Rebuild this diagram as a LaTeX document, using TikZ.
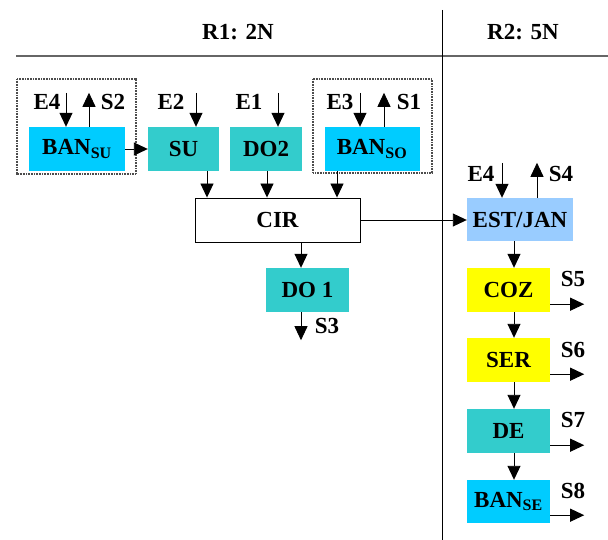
\documentclass[tikz,border=0pt]{standalone}
\usepackage{fontspec}
\setmainfont{Liberation Serif}
\usetikzlibrary{arrows.meta}
\definecolor{bancyan}{HTML}{00CCFF}
\definecolor{teal1}{HTML}{33CCCC}
\definecolor{lblue}{HTML}{99CCFF}
\definecolor{yel}{HTML}{FFFF00}
\begin{document}
\begin{tikzpicture}[x={(1pt,0)},y={(0,-1pt)},
  font=\fontsize{23}{26}\selectfont\bfseries,
  box/.style={inner sep=0pt, minimum height=44pt, text=black},
  arr/.style={line width=0.9pt, -{Triangle[length=14pt,width=13pt]}},
  lbl/.style={inner sep=0pt},
  frame/.style={draw=black!70, line width=1.6pt, dash pattern=on 0.8pt off 0.8pt}]
\useasboundingbox (0,0) rectangle (608,540);

% header
\node[lbl] (h1) at (238,32) {R1: 2N};
\node[lbl] (h2) at (523,32) {R2: 5N};
\draw[black!60, line width=2pt] (16,56) -- (608,56);
\draw[line width=0.9pt] (442,10) -- (442,540);

% dotted groups
\draw[frame] (17,79) rectangle (136,174);
\draw[frame] (313,79) rectangle (432,173);

% R1 boxes
\node[box, fill=bancyan, minimum width=96pt] (bansu) at (77,149) {BAN\textsubscript{\fontsize{16}{16}\selectfont SU}};
\node[box, fill=teal1, minimum width=71pt] (su) at (183.5,149) {SU};
\node[box, fill=teal1, minimum width=72pt] (do2) at (266,149) {DO2};
\node[box, fill=bancyan, minimum width=95pt] (banso) at (372,149) {BAN\textsubscript{\fontsize{16}{16}\selectfont SO}};
\node[box, draw=black, line width=0.9pt, fill=white, minimum width=165pt] (cir) at (277.5,220) {CIR};
\node[box, fill=teal1, minimum width=83pt] (do1) at (307.5,290) {DO 1};

% R2 boxes
\node[box, fill=lblue, minimum width=106pt, minimum height=43pt] (est) at (520,219.5) {EST/JAN};
\node[box, fill=yel, minimum width=83pt] (coz) at (508.5,290) {COZ};
\node[box, fill=yel, minimum width=83pt] (ser) at (508.5,360) {SER};
\node[box, fill=teal1, minimum width=83pt] (de) at (508.5,431) {DE};
\node[box, fill=bancyan, minimum width=83pt, minimum height=43pt] (banse) at (508.5,501.5) {BAN\textsubscript{\fontsize{16}{16}\selectfont SE}};

% inputs and outputs of the R1 boxes
\coordinate (e4a) at ([xshift=-11pt]bansu.north);
\coordinate (s2a) at ([xshift=12pt]bansu.north);
\coordinate (e2a) at ([xshift=12.5pt]su.north);
\coordinate (e1a) at ([xshift=12pt]do2.north);
\coordinate (e3a) at ([xshift=-12pt]banso.north);
\coordinate (s1a) at ([xshift=12pt]banso.north);
\coordinate (e4t) at ([yshift=34pt]e4a);
\coordinate (s2t) at ([yshift=34pt]s2a);
\coordinate (e2t) at ([yshift=34pt]e2a);
\coordinate (e1t) at ([yshift=34pt]e1a);
\coordinate (e3t) at ([yshift=34pt]e3a);
\coordinate (s1t) at ([yshift=34pt]s1a);
\draw[arr] (e4t) -- (e4a);
\draw[arr] (s2a) -- (s2t);
\draw[arr] (e2t) -- (e2a);
\draw[arr] (e1t) -- (e1a);
\draw[arr] (e3t) -- (e3a);
\draw[arr] (s1a) -- (s1t);
\node[lbl] (le4) at (47,102) {E4};
\node[lbl] (ls2) at (113,102) {S2};
\node[lbl] (le2) at (171,102) {E2};
\node[lbl] (le1) at (249,102) {E1};
\node[lbl] (le3) at (340,102) {E3};
\node[lbl] (ls1) at (409,102) {S1};

\draw[arr] (bansu.east) -- (su.west);

% into CIR
\coordinate (c1) at ([xshift=23.5pt]su.south);
\coordinate (c2) at ([xshift=1pt]do2.south);
\coordinate (c3) at ([xshift=-35pt]banso.south);
\draw[arr] (c1) -- (c1 |- cir.north);
\draw[arr] (c2) -- (c2 |- cir.north);
\draw[arr] (c3) -- (c3 |- cir.north);

% CIR outputs
\coordinate (d1) at ([xshift=-6.5pt]do1.north);
\draw[arr] (d1 |- cir.south) -- (d1);
\coordinate (d1b) at ([xshift=-6.5pt]do1.south);
\coordinate (s3e) at ([yshift=-28pt]d1b);
\draw[arr] (d1b) -- (s3e);
\node[lbl] (ls3) at (327,326) {S3};
\draw[arr] (cir.east) -- (est.west |- cir.east);

% R2 chain
\coordinate (ee4a) at ([xshift=-18pt]est.north);
\coordinate (es4a) at ([xshift=17pt]est.north);
\coordinate (ee4t) at ([yshift=35pt]ee4a);
\coordinate (es4t) at ([yshift=35pt]es4a);
\draw[arr] (ee4t) -- (ee4a);
\draw[arr] (es4a) -- (es4t);
\node[lbl] (le4b) at (481,174) {E4};
\node[lbl] (ls4) at (561,174) {S4};

\coordinate (k1) at ([xshift=5.5pt]coz.north);
\draw[arr] (k1 |- est.south) -- (k1);
\coordinate (k2) at ([xshift=5.5pt]ser.north);
\draw[arr] (k2 |- coz.south) -- (k2);
\coordinate (k3) at ([xshift=5.5pt]de.north);
\draw[arr] (k3 |- ser.south) -- (k3);
\coordinate (k4) at ([xshift=5.5pt]banse.north);
\draw[arr] (k4 |- de.south) -- (k4);

\coordinate (o5) at ([yshift=8pt]coz.south east);
\coordinate (o6) at ([yshift=8pt]ser.south east);
\coordinate (o7) at ([yshift=8pt]de.south east);
\coordinate (o8) at ([yshift=8pt]banse.south east);
\draw[arr] (o5) -- ([xshift=34pt]o5);
\draw[arr] (o6) -- ([xshift=34pt]o6);
\draw[arr] (o7) -- ([xshift=34pt]o7);
\draw[arr] (o8) -- ([xshift=34pt]o8);
\node[lbl] (ls5) at (573,279) {S5};
\node[lbl] (ls6) at (573,350) {S6};
\node[lbl] (ls7) at (573,420) {S7};
\node[lbl] (ls8) at (573,491) {S8};
\end{tikzpicture}
\end{document}
